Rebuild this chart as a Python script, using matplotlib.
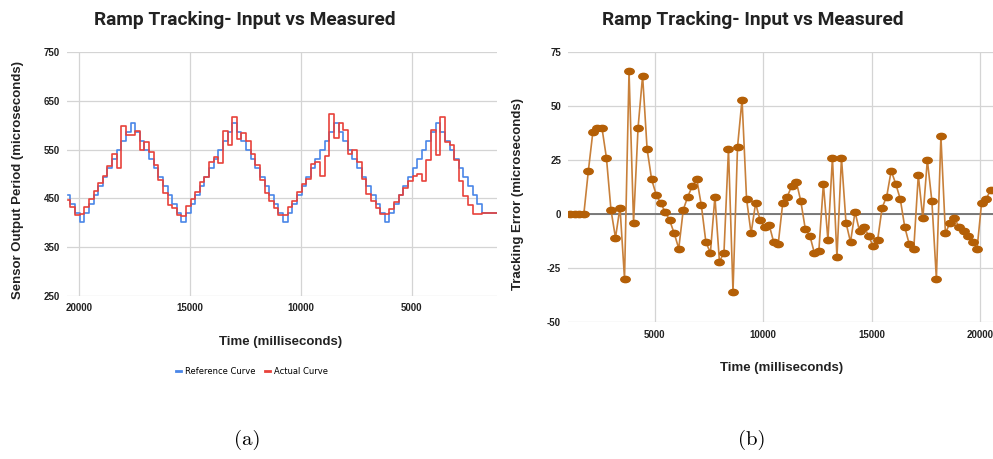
import numpy as np
import matplotlib.pyplot as plt
from matplotlib.path import Path
from matplotlib.transforms import Affine2D
from matplotlib.lines import Line2D

# logged samples (one every ~208 ms, starting at ~1.1 s)
t_start = 1100
sample_ms = 208.5

reference_us = [420, 420, 420, 420, 439, 457, 476, 494, 512, 531, 549, 568, 586, 604,
                586, 568, 549, 531, 512, 494, 476, 457, 439, 420, 402,
                420, 439, 457, 476, 494, 512, 531, 549, 568, 586, 604,
                586, 568, 549, 531, 512, 494, 476, 457, 439, 420, 402,
                420, 439, 457, 476, 494, 512, 531, 549, 568, 586, 604,
                586, 568, 549, 531, 512, 494, 476, 457, 439, 420, 402,
                420, 439, 457, 476, 494, 512, 531, 549, 568, 586, 604,
                586, 568, 549, 531, 512, 494, 476, 457, 439, 420, 402,
                420, 439, 457]

actual_us = [420, 420, 420, 420, 419, 419, 436, 454, 486, 529, 560, 565, 616, 538,
             590, 528, 485, 501, 496, 485, 471, 456, 442, 429, 418,
             418, 431, 444, 460, 490, 525, 549, 541, 590, 604, 574,
             622, 537, 496, 524, 521, 489, 479, 463, 444, 433, 416,
             415, 431, 444, 461, 488, 519, 541, 567, 585, 572, 616,
             560, 588, 523, 535, 525, 493, 484, 463, 449, 435, 414,
             417, 431, 437, 462, 487, 518, 545, 565, 550, 588, 579,
             580, 598, 513, 540, 516, 496, 482, 465, 449, 433, 418,
             415, 432, 446]

error_us = [0, 0, 0, 0, 20, 38, 40, 40, 26, 2, -11, 3, -30, 66,
            -4, 40, 64, 30, 16, 9, 5, 1, -3, -9, -16,
            2, 8, 13, 16, 4, -13, -18, 8, -22, -18, 30,
            -36, 31, 53, 7, -9, 5, -3, -6, -5, -13, -14,
            5, 8, 13, 15, 6, -7, -10, -18, -17, 14, -12,
            26, -20, 26, -4, -13, 1, -8, -6, -10, -15, -12,
            3, 8, 20, 14, 7, -6, -14, -16, 18, -2, 25,
            6, -30, 36, -9, -4, -2, -6, -8, -10, -13, -16,
            5, 7, 11]

left_xticks = [20000, 15000, 10000, 5000]
left_yticks = [250, 350, 450, 550, 650, 750]
right_xticks = [5000, 10000, 15000, 20000]
right_yticks = [-50, -25, 0, 25, 50, 75]

time_ms = t_start + sample_ms * np.arange(len(reference_us))

W, H = 993, 459
TITLE = 'Ramp Tracking- Input vs Measured'
GRID = '#d4d4d4'
TICKFONT = dict(fontfamily='Liberation Sans', fontweight='bold', fontsize=7, color='#222222')
TITLEFONT = dict(fontfamily='Roboto', fontweight='bold', fontsize=13.8, color='#222222')
LABELFONT = dict(fontfamily='Liberation Sans', fontweight='bold', fontsize=9.5, color='#222222')


def fx(x):
    return x / W


def fy(y):
    return 1 - y / H


fig = plt.figure(figsize=(W / 100, H / 100), dpi=100)

# ---------------- (a) input vs measured ----------------
ax1 = fig.add_axes([fx(67), fy(296), fx(430), 244 / H])
ax1.plot(time_ms, reference_us, drawstyle='steps-mid', color='#4a86e8', lw=1.2, zorder=3)
ax1.plot(time_ms, actual_us, drawstyle='steps-mid', color='#e8423b', lw=1.2, zorder=4)
ax1.set_xlim(20540, 1150)
ax1.set_ylim(250, 750)
ax1.set_xticks(left_xticks, [str(v) for v in left_xticks], **TICKFONT)
ax1.set_yticks(left_yticks, [str(v) for v in left_yticks], **TICKFONT)
ax1.tick_params(length=0)
ax1.tick_params(axis='x', pad=5)
ax1.tick_params(axis='y', pad=5)
ax1.grid(color=GRID, lw=0.9)
for s in ax1.spines.values():
    s.set_visible(False)

fig.text(fx(245), fy(20), TITLE, ha='center', va='center', **TITLEFONT)
fig.text(fx(18), fy(180), 'Sensor Output Period (microseconds)', rotation=90,
         ha='center', va='center', **LABELFONT)
fig.text(fx(281), fy(342), 'Time (milliseconds)', ha='center', va='center', **LABELFONT)

handles = [Line2D([], [], color='#4a86e8', lw=2), Line2D([], [], color='#e8423b', lw=2)]
fig.legend(handles, ['Reference Curve', 'Actual Curve'], loc='center',
           bbox_to_anchor=(fx(252), fy(371)), ncol=2, frameon=False,
           handlelength=0.6, handletextpad=0.5, columnspacing=1.2,
           prop=dict(family='DejaVu Sans', size=6))

fig.text(fx(247), fy(440), '(a)', ha='center', va='center', fontfamily='cmr10', fontsize=15)

# ---------------- (b) tracking error ----------------
ax2 = fig.add_axes([fx(568), fy(322), fx(W - 568), 270 / H])
ax2.plot(time_ms, error_us, color='#c8803a', lw=1.2, zorder=3)
ellipse = Path.unit_circle().transformed(Affine2D().scale(1.5, 1.0))
ax2.plot(time_ms, error_us, ls='none', marker=ellipse, ms=6.8,
         color='#b45f06', zorder=4)
ax2.axhline(0, color='#707070', lw=1.3, zorder=2)
ax2.set_xlim(995, 20600)
ax2.set_ylim(-50, 75)
ax2.set_xticks(right_xticks, [str(v) for v in right_xticks], **TICKFONT)
ax2.set_yticks(right_yticks, [str(v) for v in right_yticks], **TICKFONT)
ax2.tick_params(length=0)
ax2.tick_params(axis='x', pad=6)
ax2.tick_params(axis='y', pad=5)
ax2.grid(color=GRID, lw=0.9)
for s in ax2.spines.values():
    s.set_visible(False)

fig.text(fx(753), fy(20), TITLE, ha='center', va='center', **TITLEFONT)
fig.text(fx(518), fy(194), 'Tracking Error (microseconds)', rotation=90,
         ha='center', va='center', **LABELFONT)
fig.text(fx(782), fy(368), 'Time (milliseconds)', ha='center', va='center', **LABELFONT)

fig.text(fx(752), fy(440), '(b)', ha='center', va='center', fontfamily='cmr10', fontsize=15)

fig.savefig('out.png', dpi=100)
